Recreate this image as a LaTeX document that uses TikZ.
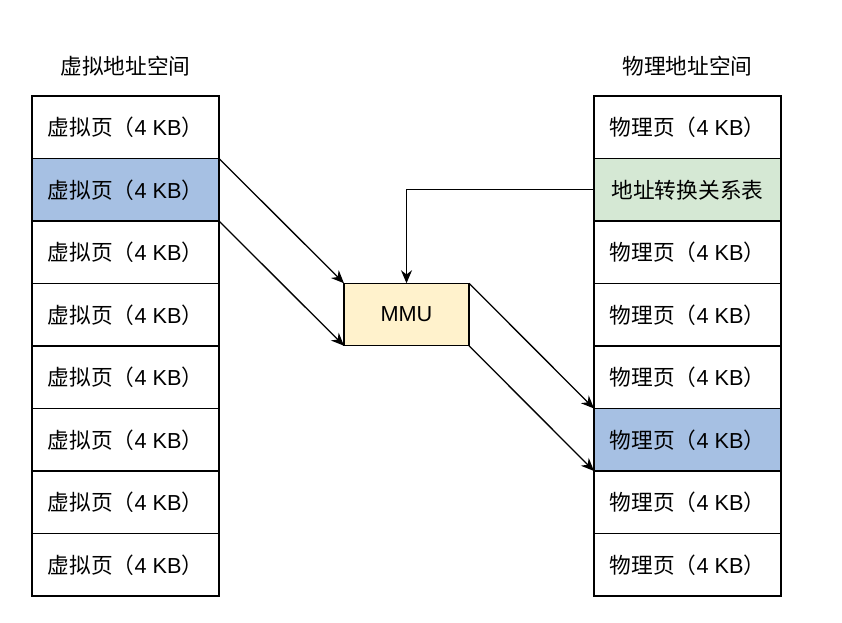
\documentclass[tikz,border=0pt]{standalone}
\usepackage{fontspec}
\setmainfont{Liberation Sans}
\newfontfamily\cjk{Noto Sans CJK SC}
\usetikzlibrary{positioning,arrows.meta}
\definecolor{selblue}{HTML}{A6C0E3}
\definecolor{tabgreen}{HTML}{D5E8D4}
\definecolor{mmuyellow}{HTML}{FFF2CC}
\newcommand{\vpage}{{\cjk 虚拟页（}4 KB{\cjk ）}}
\newcommand{\ppage}{{\cjk 物理页（}4 KB{\cjk ）}}
\begin{document}
\begin{tikzpicture}[x=1pt, y=-1pt, node distance=0pt, line width=1.3pt,
  font=\fontsize{21.7}{26}\selectfont,
  page/.style={draw, minimum width=187pt, minimum height=62.5pt, inner sep=0pt, outer sep=0pt},
  title/.style={font=\fontsize{21.7}{26}\selectfont\cjk},
  map/.style={-{Stealth[length=13pt,width=11pt]}}]
\useasboundingbox (0,0) rectangle (842,622);
% virtual address space
\node[title] (vtitle) at (125.5,66) {虚拟地址空间};
\node[page] (v1) at (125.5,127.25) {\vpage};
\node[page, fill=selblue] (v2) [below=of v1] {\vpage};
\node[page] (v3) [below=of v2] {\vpage};
\node[page] (v4) [below=of v3] {\vpage};
\node[page] (v5) [below=of v4] {\vpage};
\node[page] (v6) [below=of v5] {\vpage};
\node[page] (v7) [below=of v6] {\vpage};
\node[page] (v8) [below=of v7] {\vpage};
% physical address space
\node[title] (ptitle) at (687.5,66) {物理地址空间};
\node[page] (p1) at (687.5,127.25) {\ppage};
\node[page, fill=tabgreen] (p2) [below=of p1] {\cjk 地址转换关系表};
\node[page] (p3) [below=of p2] {\ppage};
\node[page] (p4) [below=of p3] {\ppage};
\node[page] (p5) [below=of p4] {\ppage};
\node[page, fill=selblue] (p6) [below=of p5] {\ppage};
\node[page] (p7) [below=of p6] {\ppage};
\node[page] (p8) [below=of p7] {\ppage};
% mmu
\node[draw, fill=mmuyellow, minimum width=125pt, minimum height=62.5pt, inner sep=0pt, outer sep=0pt] (mmu) at (406.5,314.5) {MMU};
\draw[map] (v2.north east) -- (mmu.north west);
\draw[map] (v2.south east) -- (mmu.south west);
\draw[map] (mmu.north east) -- (p6.north west);
\draw[map] (mmu.south east) -- (p6.south west);
\draw[map] (p2.west) -| (mmu.north);
\end{tikzpicture}
\end{document}
